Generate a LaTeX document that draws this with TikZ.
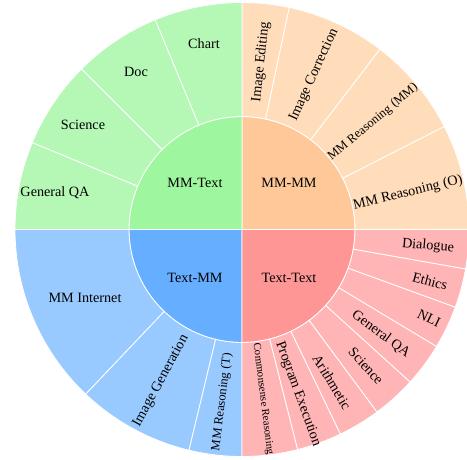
\documentclass[tikz,border=0pt]{standalone}
\usepackage{fontspec}
\setmainfont{Liberation Serif}
\definecolor{gIn}{HTML}{9EF79E}
\definecolor{gOut}{HTML}{B5F7B5}
\definecolor{oIn}{HTML}{FFC898}
\definecolor{oOut}{HTML}{FFDDBA}
\definecolor{bIn}{HTML}{66AEFF}
\definecolor{bOut}{HTML}{99CAFF}
\definecolor{rIn}{HTML}{FF9696}
\definecolor{rOut}{HTML}{FFB5B5}
\newcommand{\sunring}[3]{\filldraw[wedge, fill=#1] (#2:113pt) arc[start angle=#2, end angle=#3, radius=113pt] -- (#3:227pt) arc[start angle=#3, end angle=#2, radius=227pt] -- cycle;}
\newcommand{\sunpie}[3]{\filldraw[wedge, fill=#1] (0,0) -- (#2:113pt) arc[start angle=#2, end angle=#3, radius=113pt] -- cycle;}
\tikzset{
  wedge/.style={draw=white, line width=0.8pt},
  lbl/.style={font=\fontsize{14.2pt}{17pt}\selectfont, inner sep=0pt, text=black},
  lblm/.style={font=\fontsize{12.6pt}{15pt}\selectfont, inner sep=0pt, text=black},
  lbls/.style={font=\fontsize{10.8pt}{13pt}\selectfont, inner sep=0pt, text=black}
}
\begin{document}
\begin{tikzpicture}
\useasboundingbox (-242pt,-229.5pt) rectangle (225pt,229.5pt);
% inner ring
\sunpie{oIn}{0}{90}
\sunpie{gIn}{90}{180}
\sunpie{bIn}{180}{270}
\sunpie{rIn}{270}{360}
% MM-MM outer
\sunring{oOut}{0}{27}
\sunring{oOut}{27}{52.6}
\sunring{oOut}{52.6}{78}
\sunring{oOut}{78}{90}
% MM-Text outer
\sunring{gOut}{90}{112.5}
\sunring{gOut}{112.5}{135}
\sunring{gOut}{135}{157.5}
\sunring{gOut}{157.5}{180}
% Text-MM outer
\sunring{bOut}{180}{226.5}
\sunring{bOut}{226.5}{256.5}
\sunring{bOut}{256.5}{270}
% Text-Text outer
\sunring{rOut}{270}{284.2}
\sunring{rOut}{284.2}{295.7}
\sunring{rOut}{295.7}{306.5}
\sunring{rOut}{306.5}{317.8}
\sunring{rOut}{317.8}{329}
\sunring{rOut}{329}{340}
\sunring{rOut}{340}{350}
\sunring{rOut}{350}{360}
% inner labels
\node[lbl] (mmtext) at (-47pt,46.5pt) {MM-Text};
\node[lbl] (mmmm) at (47pt,46.5pt) {MM-MM};
\node[lbl] (textmm) at (-47pt,-48.5pt) {Text-MM};
\node[lbl] (texttext) at (47pt,-48.5pt) {Text-Text};
% MM-Text outer labels
\node[lbl] (chart) at (-38pt,185.5pt) {Chart};
\node[lbl] (doc) at (-106pt,157.5pt) {Doc};
\node[lbl] (sci1) at (-159pt,104.5pt) {Science};
\node[lbl] (gqa1) at (-187pt,36.5pt) {General QA};
% MM-MM outer labels
\node[lbl, rotate=84] (imged) at (19pt,167.5pt) {Image Editing};
\node[lbl, rotate=65.3] (imgcor) at (72pt,154.5pt) {Image Correction};
\node[lblm, rotate=39.8] (mmrmm) at (131pt,107.5pt) {MM Reasoning (MM)};
\node[lbl, rotate=13.5] (mmro) at (166pt,36.5pt) {MM Reasoning (O)};
% Text-MM outer labels
\node[lbl] (mmint) at (-157pt,-68.5pt) {MM Internet};
\node[lbl, rotate=61.5] (imggen) at (-81pt,-151.5pt) {Image Generation};
\node[lblm, rotate=83.2] (mmrt) at (-20pt,-172.5pt) {MM Reasoning (T)};
% Text-Text outer labels
\node[lbl, rotate=-5] (dial) at (186pt,-16.5pt) {Dialogue};
\node[lbl, rotate=-15] (eth) at (188pt,-51.5pt) {Ethics};
\node[lbl, rotate=-25.5] (nli) at (187pt,-88.5pt) {NLI};
\node[lbl, rotate=-36.6] (gqa2) at (139pt,-104.5pt) {General QA};
\node[lbl, rotate=-47.8] (sci2) at (124pt,-136.5pt) {Science};
\node[lbl, rotate=-58.9] (arith) at (90pt,-152.5pt) {Arithmetic};
\node[lbl, rotate=-70] (prog) at (56pt,-164.5pt) {Program Execution};
\node[lbls, rotate=-82.9] (common) at (21pt,-169.5pt) {Commonsense Reasoning};
\end{tikzpicture}
\end{document}
